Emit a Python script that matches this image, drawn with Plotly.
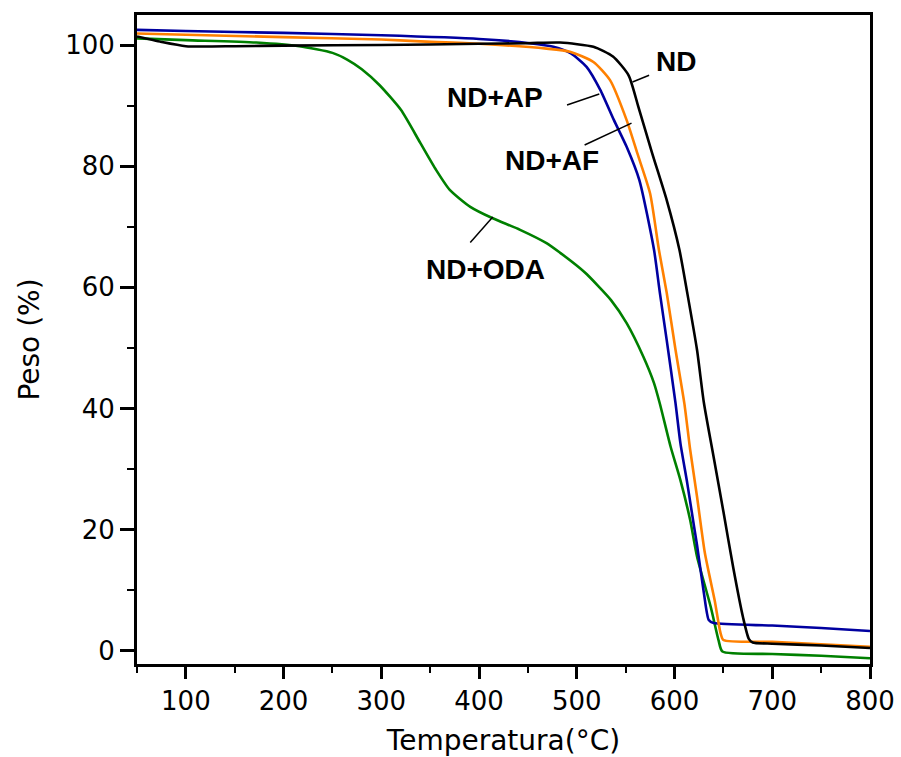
import plotly.graph_objects as go

# ---- data ----
t_nd = [50, 75, 100, 150, 200, 300, 400, 450, 483, 517, 537, 553, 563, 577, 592, 605, 613,
        623, 630, 640, 650, 660, 670, 676, 680, 700, 750, 800]
w_nd = [101.4, 100.5, 99.8, 99.8, 99.9, 100.0, 100.2, 100.3, 100.4, 99.7, 98.1, 95.0, 89.8,
        82.2, 74.4, 66.2, 59.1, 49.7, 41.0, 32.0, 23.0, 13.8, 5.6, 2.0, 1.4, 1.2, 0.9, 0.5]

t_ap = [50, 100, 200, 300, 400, 452, 476, 494, 510, 524, 538, 551, 564, 579, 585, 592, 601,
        606, 613, 620, 623, 630, 635, 640, 700, 750, 800]
w_ap = [102.5, 102.3, 102.0, 101.6, 101.0, 100.3, 99.7, 98.6, 96.4, 92.6, 87.6, 83.2, 77.7,
        66.2, 59.1, 51.3, 40.9, 34.3, 27.7, 20.5, 17.5, 9.6, 5.1, 4.6, 4.2, 3.8, 3.3]

t_af = [50, 100, 200, 300, 340, 400, 469, 493, 517, 534, 551, 562, 575, 584, 592, 601, 610,
        616, 623, 631, 641, 647, 650, 700, 750, 800]
w_af = [101.9, 101.7, 101.3, 100.9, 100.6, 100.2, 99.4, 98.9, 97.2, 94.2, 87.6, 82.1, 75.5,
        66.2, 59.1, 49.7, 40.9, 33.2, 25.5, 16.2, 8.4, 3.0, 1.8, 1.5, 1.1, 0.7]

t_oda = [50, 100, 172, 216, 250, 265, 280, 298, 320, 340, 356, 370, 391, 414, 442, 469, 483,
         503, 510, 535, 551, 568, 579, 585, 596, 606, 616, 623, 637, 645, 649, 700, 750, 800]
w_oda = [101.1, 100.8, 100.4, 99.8, 98.7, 97.6, 96.0, 93.4, 89.3, 83.8, 79.4, 76.1, 73.3, 71.4,
         69.5, 67.3, 65.7, 63.2, 62.2, 57.9, 54.1, 48.6, 44.2, 40.8, 33.7, 28.2, 21.6, 15.6,
         7.3, 1.8, -0.1, -0.5, -0.8, -1.2]

names = ["ND", "ND+AP", "ND+AF", "ND+ODA"]
colors = ["#000000", "#0000a0", "#ff8000", "#008000"]

# label positions and leader lines (data coordinates)
label_x = [601, 416, 475, 407]
label_y = [97.2, 91.4, 81.0, 62.9]
leader_x0 = [557, 490, 508, 391]
leader_y0 = [93.9, 90.1, 83.5, 67.4]
leader_x1 = [574, 523, 556, 414]
leader_y1 = [95.0, 91.9, 87.1, 71.6]

series = [(t_nd, w_nd), (t_ap, w_ap), (t_af, w_af), (t_oda, w_oda)]

fig = go.Figure()
# draw order: green, blue, orange, black on top
for i in [3, 1, 2, 0]:
    t, w = series[i]
    fig.add_trace(go.Scatter(x=t, y=w, mode="lines", name=names[i],
                             line=dict(color=colors[i], width=2.6, shape="spline", smoothing=0.6),
                             showlegend=False))

for i in range(4):
    fig.add_annotation(x=label_x[i], y=label_y[i], text="<b>%s</b>" % names[i],
                       showarrow=False, font=dict(family="Arial, Liberation Sans", size=28, color="black"))
    fig.add_shape(type="line", xref="x", yref="y", x0=leader_x0[i], y0=leader_y0[i],
                  x1=leader_x1[i], y1=leader_y1[i], line=dict(color="black", width=1.5))

axis_font = dict(family="DejaVu Sans", size=26, color="black")
fig.update_layout(
    width=901, height=757,
    margin=dict(l=137, r=31, t=15, b=93),
    paper_bgcolor="white", plot_bgcolor="white",
    xaxis=dict(range=[50, 800], tickvals=[100, 200, 300, 400, 500, 600, 700, 800],
               automargin=False,
               showline=True, linewidth=3, linecolor="black", mirror=True,
               ticks="outside", ticklen=12, tickwidth=3, tickcolor="black",
               minor=dict(dtick=50, tick0=0, ticks="outside", ticklen=6, tickwidth=2, tickcolor="black"),
               showgrid=False, zeroline=False, tickfont=axis_font,
               title=dict(text="Temperatura(°C)", font=dict(family="DejaVu Sans", size=28, color="black"),
                          standoff=16)),
    yaxis=dict(range=[-2.15, 104.95], tickvals=[0, 20, 40, 60, 80, 100],
               automargin=False,
               showline=True, linewidth=3, linecolor="black", mirror=True,
               ticks="outside", ticklen=14, tickwidth=3, tickcolor="black",
               minor=dict(dtick=10, tick0=0, ticks="outside", ticklen=7, tickwidth=2, tickcolor="black"),
               showgrid=False, zeroline=False, tickfont=axis_font,
               title=dict(text="Peso (%)", font=dict(family="DejaVu Sans", size=28, color="black"),
                          standoff=18)),
)

fig.write_html("out.html")
